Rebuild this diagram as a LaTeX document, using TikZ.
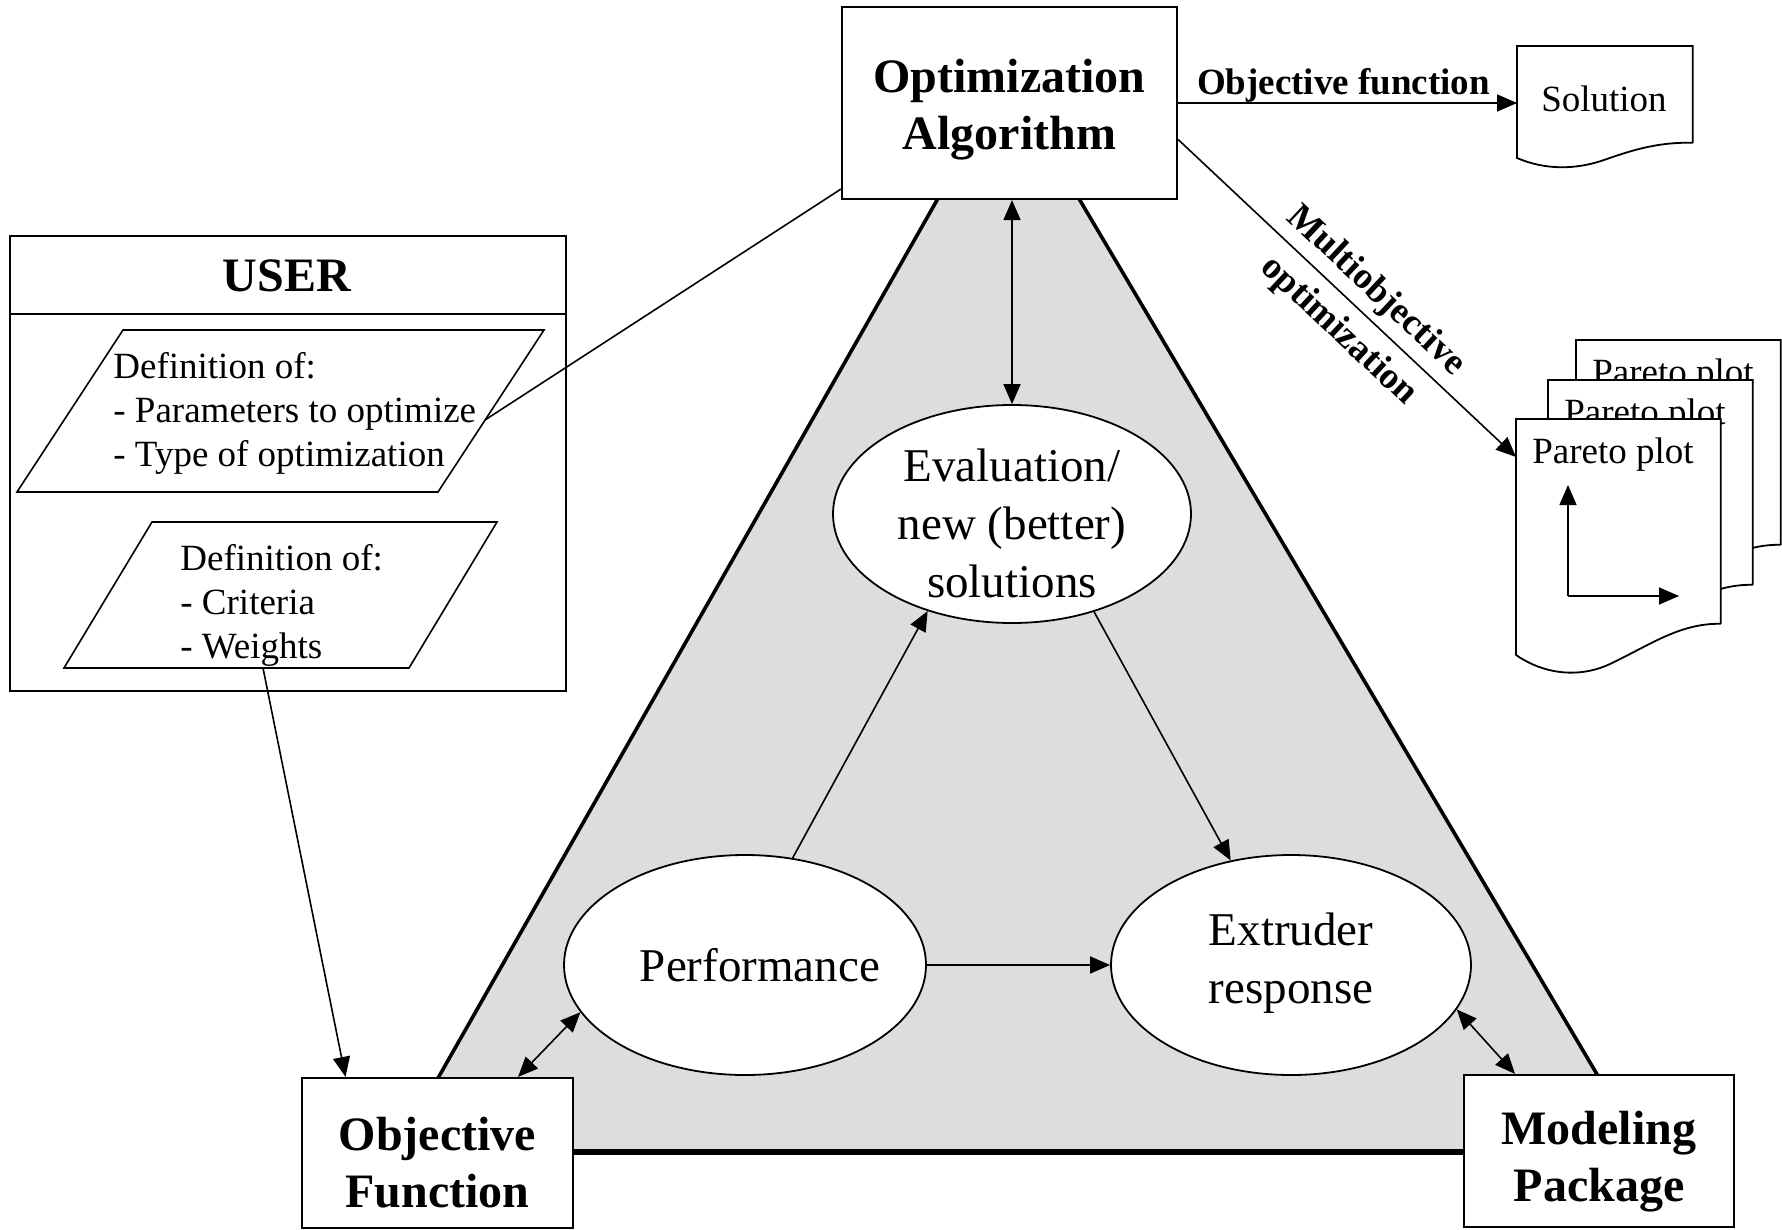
\documentclass[tikz,border=0pt]{standalone}
\usepackage{fontspec}
\setmainfont{Liberation Serif}
\usetikzlibrary{arrows.meta,shapes.geometric,calc}
\definecolor{trifill}{RGB}{221,221,221}
\newcommand{\paretopage}[3]{%
  \begin{scope}[shift={(#1,#2)}]
    \node[minimum width=102pt, minimum height=102pt, inner sep=0pt, anchor=north west] (#3) at (1516,419) {};
    \draw[page] (#3.south east) -- (#3.north east) -- (#3.north west) -- (1516,655)
      .. controls (1545,675) and (1580,678) .. (1610,664)
      .. controls (1650,645) and (1680,623) .. (#3.south east);
    \node[lbl] (#3t) at (1613,455) {Pareto plot};
  \end{scope}}
\begin{document}
\begin{tikzpicture}[x=0.5pt, y=-0.5pt,
  tip/.style={-{Triangle[length=10pt,width=8.5pt]}},
  dtip/.style={{Triangle[length=10pt,width=8.5pt]}-{Triangle[length=10pt,width=8.5pt]}},
  conn/.style={line width=0.8pt},
  bigbox/.style={draw, line width=1.1pt, fill=white, rectangle, inner sep=0pt},
  boxtext/.style={font=\fontsize{24}{28.5}\selectfont\bfseries, align=center},
  ell/.style={draw, ellipse, line width=0.9pt, fill=white, inner sep=0pt},
  elltext/.style={font=\fontsize{23.5}{29}\selectfont, align=center},
  lbl/.style={font=\fontsize{18.5}{22}\selectfont},
  blbl/.style={font=\fontsize{18.5}{22}\selectfont\bfseries},
  page/.style={draw, line width=0.9pt, fill=white}
]
\useasboundingbox (0,0) rectangle (1782,1230);

% grey triangle
\fill[trifill] (1007,77) -- (1643,1152) -- (396,1152) -- cycle;
\draw[line width=1.8pt] (396,1152) -- (1007,77) -- (1643,1152);
\draw[line width=2.6pt] (396,1152) -- (1643,1152);

% ellipses
\node[ell, minimum width=179pt, minimum height=109pt,
  label={[elltext, yshift=-4.5pt]center:Evaluation/\\new (better)\\solutions}] (eval) at (1012,514) {};
\node[ell, minimum width=181pt, minimum height=110pt,
  label={[elltext, xshift=7.5pt]center:Performance}] (perf) at (745,965) {};
\node[ell, minimum width=180pt, minimum height=110pt,
  label={[elltext, yshift=1pt]center:Extruder\\response}] (ext) at (1291,965) {};

% main boxes
\node[bigbox, minimum width=167.5pt, minimum height=96pt,
  label={[boxtext, yshift=-3.5pt]center:Optimization\\Algorithm}] (oa) at (1009.5,103) {};
\node[bigbox, minimum width=135.5pt, minimum height=75pt,
  label={[boxtext, yshift=-5pt]center:Objective\\Function}] (of) at (437.5,1153) {};
\node[bigbox, minimum width=135pt, minimum height=76pt,
  label={[boxtext, yshift=-5.5pt]center:Modeling\\Package}] (mp) at (1599,1151) {};

% inner connectors
\draw[conn, dtip] (eval.north) -- (eval.north |- oa.south);
\draw[conn, tip] (perf.66.7) -- (eval.229.8);
\draw[conn, tip] (eval.-50.6) -- (ext.120);
\draw[conn, tip] (perf.east) -- (ext.west);
\draw[conn, dtip] ([xshift=40.25pt]of.north) -- (perf.196);
\draw[conn, dtip] (ext.-15) -- ([xshift=-42pt]mp.north);

% USER block
\node[draw, line width=1pt, minimum width=278pt, minimum height=227.5pt, anchor=north west, inner sep=0pt] (user) at (9,235) {};
\draw[line width=1pt] ([yshift=-39.5pt]user.north west) -- ([yshift=-39.5pt]user.north east);
\node[font=\fontsize{24}{28}\selectfont\bfseries] (usert) at (287,276) {USER};

\draw[line width=0.8pt] (123,330) -- (544,330) -- (438,492) -- (17,492) -- cycle;
\node[lbl, anchor=west, align=left, inner sep=0pt] (p1t) at (113,413) {Definition of:\\- Parameters to optimize\\- Type of optimization};
\draw[line width=0.8pt] (152,522) -- (497,522) -- (409,668) -- (64,668) -- cycle;
\node[lbl, anchor=west, align=left, inner sep=0pt] (p2t) at (180,605) {Definition of:\\- Criteria\\- Weights};

\coordinate (w) at (263,668);
\coordinate (p1r) at (485,420);
\draw[conn] (p1r) -- ([yshift=5.5pt]oa.south west);
\draw[conn, tip] (w) -- ([xshift=-46pt]of.north);

% Solution document
\node[minimum width=87.5pt, minimum height=48pt, inner sep=0pt, anchor=north west] (sol) at (1517,46) {};
\draw[page] (sol.south east) -- (sol.north east) -- (sol.north west) -- (1517,158)
  .. controls (1545,170) and (1575,170) .. (1604,160)
  .. controls (1635,149) and (1660,142) .. (sol.south east);
\node[lbl] (solt) at (1604,99) {Solution};
\draw[conn, tip] (oa.east) -- (oa.east -| sol.west)
  node[blbl, midway, yshift=9pt, xshift=-2pt] (ofl) {Objective function};

% Pareto pages
\paretopage{60}{-79}{pb}
\paretopage{32}{-39}{pm}
\paretopage{0}{0}{pf}
\coordinate (ax) at (1568,596);
\coordinate (axy) at (1568,485);
\coordinate (axx) at (1679,596);
\draw[conn, tip] (ax) -- (axy);
\draw[conn, tip] (ax) -- (axx);

% Multiobjective arrow
\coordinate (ms) at ([yshift=-18.25pt]oa.east);
\coordinate (me) at ([yshift=-19pt]pf.north west);
\draw[conn, tip] (ms) -- (me);
\coordinate (mo) at ($(ms)!0.535!(me)$);
\node[blbl, rotate=-43.1] (mot) at ($(mo)!12.5pt!90:(me)$) {Multiobjective};
\node[blbl, rotate=-43.1] (opt) at ($(mo)!15pt!-90:(me)$) {optimization};
\end{tikzpicture}
\end{document}
